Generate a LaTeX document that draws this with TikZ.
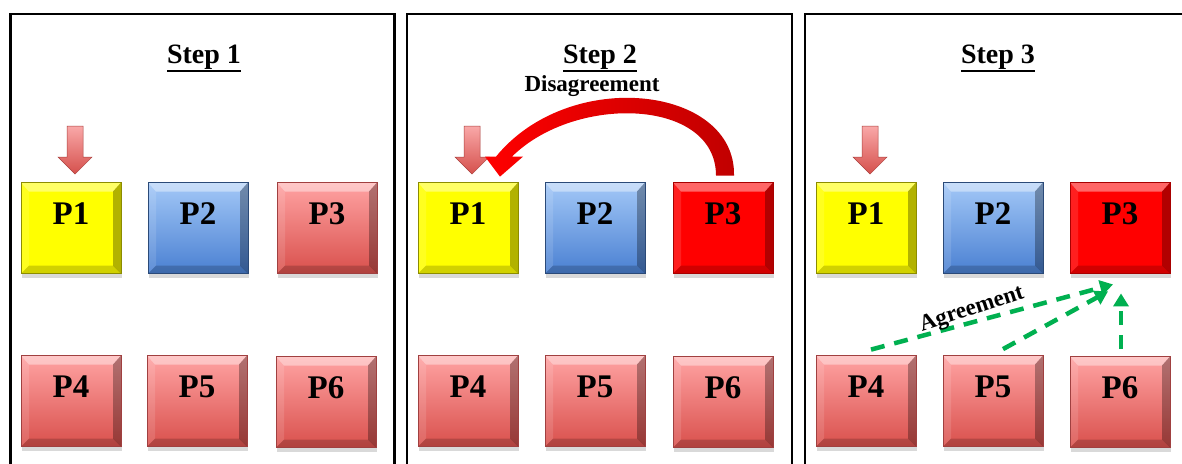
\documentclass[tikz,border=0pt]{standalone}
\usepackage{fontspec}
\setmainfont{Liberation Serif}
\usetikzlibrary{calc,shadows,arrows.meta}
\definecolor{yface}{HTML}{FFFF00}
\definecolor{yedge}{HTML}{8C8C00}
\definecolor{btop}{HTML}{A3C8F7}
\definecolor{bbot}{HTML}{4A80D2}
\definecolor{bedge}{HTML}{2B4A78}
\definecolor{ptop}{HTML}{FFA3A3}
\definecolor{pbot}{HTML}{D9504C}
\definecolor{pedge}{HTML}{A04040}
\definecolor{rface}{HTML}{FF0000}
\definecolor{redge}{HTML}{A80000}
\definecolor{atop}{HTML}{F9A8A8}
\definecolor{abot}{HTML}{D5504C}
\definecolor{agreen}{HTML}{00B050}
\definecolor{dtop}{HTML}{FF0000}
\definecolor{dright}{HTML}{C00000}
\newcommand\stepul[1]{\leavevmode\vtop{\hbox{#1}\kern1.5pt\hrule height 2pt}}
\tikzset{
  bevel/.style={path picture={
    \coordinate (bA) at (path picture bounding box.north west);
    \coordinate (bB) at (path picture bounding box.north east);
    \coordinate (bC) at (path picture bounding box.south east);
    \coordinate (bD) at (path picture bounding box.south west);
    \coordinate (iA) at ($(bA)+(8pt,-9pt)$);
    \coordinate (iB) at ($(bB)+(-8pt,-9pt)$);
    \coordinate (iC) at ($(bC)+(-8pt,8pt)$);
    \coordinate (iD) at ($(bD)+(8pt,8pt)$);
    \fill[white,opacity=.4] (bA)--(bB)--(iB)--(iA)--cycle;
    \fill[white,opacity=.12] (bA)--(iA)--(iD)--(bD)--cycle;
    \fill[black,opacity=.3] (bB)--(bC)--(iC)--(iB)--cycle;
    \fill[black,opacity=.18] (bD)--(iD)--(iC)--(bC)--cycle;
  }},
  pb/.style={rectangle, minimum width=100pt, minimum height=91pt, inner sep=0pt,
    line width=0.8pt,
    font=\fontsize{33}{33}\selectfont\bfseries,
    drop shadow={shadow xshift=0.5pt, shadow yshift=-4pt, opacity=0.15, fill=black},
    bevel},
  yel/.style={pb, fill=yface, draw=yedge},
  blu/.style={pb, top color=btop, bottom color=bbot, draw=bedge},
  pnk/.style={pb, top color=ptop, bottom color=pbot, draw=pedge},
  rd/.style={pb, fill=rface, draw=redge},
  panel/.style={draw=black, line width=2.5pt},
  ttl/.style={anchor=base, font=\fontsize{28}{28}\selectfont\bfseries},
  lbl/.style={font=\fontsize{23}{23}\selectfont\bfseries},
  downarr/.style={top color=atop, bottom color=abot, draw=abot!80!black, line width=0.5pt},
  agr/.style={draw=agreen, line width=4.5pt, dash pattern=on 14pt off 10pt,
    -{Triangle[length=13pt,width=15pt]}},
}
\newcommand\Lbl[1]{\raisebox{28pt}{#1}}
\begin{document}
\begin{tikzpicture}[x=1pt,y=-1pt]
\useasboundingbox (0,0) rectangle (1182,463);
\clip (0,0) rectangle (1182,463);
\fill[white] (0,0) rectangle (1182,463);
% panels
\draw[panel] (10.5,14) rectangle (394.5,495);
\draw[panel] (407,14) rectangle (792,495);
\draw[panel] (805,14) rectangle (1200,495);
% titles
\node[ttl] (t1) at (204,63) {\stepul{Step 1}};
\node[ttl] (t2) at (600,63) {\stepul{Step 2}};
\node[ttl] (t3) at (998,63) {\stepul{Step 3}};
% panel 1
\node[yel] (a1) at (71,228) {\Lbl{P1}};
\node[blu] (a2) at (198,228) {\Lbl{P2}};
\node[pnk] (a3) at (327,228) {\Lbl{P3}};
\node[pnk] (a4) at (71,401) {\Lbl{P4}};
\node[pnk] (a5) at (197,401) {\Lbl{P5}};
\node[pnk] (a6) at (326,402) {\Lbl{P6}};
% panel 2
\node[yel] (b1) at (468,228) {\Lbl{P1}};
\node[blu] (b2) at (595,228) {\Lbl{P2}};
\node[rd] (b3) at (723,228) {\Lbl{P3}};
\node[pnk] (b4) at (468,401) {\Lbl{P4}};
\node[pnk] (b5) at (595,401) {\Lbl{P5}};
\node[pnk] (b6) at (723,402) {\Lbl{P6}};
% panel 3
\node[yel] (c1) at (866,228) {\Lbl{P1}};
\node[blu] (c2) at (993,228) {\Lbl{P2}};
\node[rd] (c3) at (1120,228) {\Lbl{P3}};
\node[pnk] (c4) at (866,401) {\Lbl{P4}};
\node[pnk] (c5) at (993,401) {\Lbl{P5}};
\node[pnk] (c6) at (1120,402) {\Lbl{P6}};
% down arrows above P1
\foreach \n in {a1,b1,c1}{
  \coordinate (tip\n) at ($(\n.north)+(4,-8)$);
  \begin{scope}[shift={(tip\n)}]
    \path[downarr] (0,0) -- (-17,-17) -- (-8,-17) -- (-8,-48) -- (8,-48) -- (8,-17) -- (17,-17) -- cycle;
  \end{scope}
}
% disagreement arrow
\coordinate (dsrc) at (b3.north);
\begin{scope}[shift={(dsrc)}]
  \path[left color=dtop, right color=dright]
    (11,-6.5) .. controls (13,-96) and (-153,-116) .. (-227,-25.5)
    -- (-238,-25.5) -- (-223,-5.5) -- (-200,-25.5) -- (-211,-25.5)
    .. controls (-148,-88) and (-7,-84) .. (-7,-6.5) -- cycle;
\end{scope}
\node[lbl] (dis) at (592,86) {Disagreement};
% agreement arrows
\coordinate (g1) at ($(c3.south)+(-7,10.5)$);
\coordinate (g2) at ($(c3.south)+(-12,17.5)$);
\coordinate (g3) at ($(c3.south)+(1,19.5)$);
\draw[agr] ([xshift=5pt,yshift=5.5pt]c4.north) -- (g1);
\draw[agr] ([xshift=10pt,yshift=6pt]c5.north) -- (g2);
\draw[agr] ([xshift=1pt,yshift=7pt]c6.north) -- (g3);
\node[lbl, rotate=18] (agl) at (972,310) {Agreement};
\end{tikzpicture}
\end{document}
